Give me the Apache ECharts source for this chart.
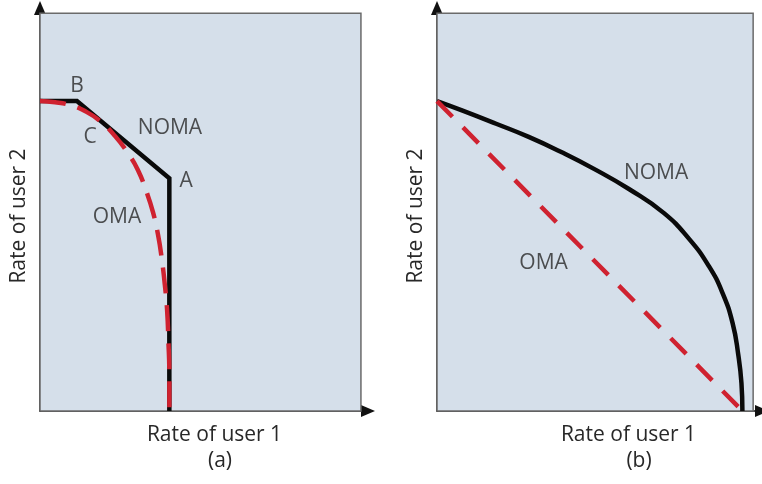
<!DOCTYPE html>
<html>
<head>
<meta charset="utf-8">
<title>NOMA vs OMA capacity regions</title>
<script src="https://cdn.jsdelivr.net/npm/echarts@6/dist/echarts.min.js"></script>
<style>
  html, body { margin: 0; padding: 0; background: #ffffff; }
  #chart { width: 762px; height: 484px; }
</style>
</head>
<body>
<div id="chart"></div>
<script>
// Rate pairs (user 1, user 2) in normalised units; the shaded frame spans 0..10 on each axis.

// (a) NOMA boundary: corner point B, segment to A, then straight down
const nomaA_x = [0, 1.15, 4.03, 4.03];
const nomaA_y = [7.79, 7.79, 5.85, 0];

// (a) OMA boundary: curve touching NOMA near point C
const omaA_x = [0, 0.47, 0.93, 1.40, 1.87, 2.34, 2.74, 3.05, 3.30, 3.52, 3.68, 3.80, 3.89, 3.96, 4.00, 4.03, 4.03];
const omaA_y = [7.79, 7.76, 7.69, 7.54, 7.29, 6.91, 6.48, 6.06, 5.55, 5.00, 4.42, 3.79, 3.17, 2.54, 1.78, 0.90, 0];

// (b) NOMA boundary: concave curve
const nomaB_x = [0, 0.81, 1.87, 2.90, 3.93, 4.98, 6.07, 7.17, 7.98, 8.60, 9.03, 9.35, 9.53, 9.63, 9.66];
const nomaB_y = [7.79, 7.55, 7.22, 6.89, 6.51, 6.08, 5.58, 4.98, 4.32, 3.64, 2.97, 2.21, 1.41, 0.70, 0];

// (b) OMA boundary: time-sharing straight line
const omaB_x = [0, 9.66];
const omaB_y = [7.79, 0];

// Text annotations: [text, user-1 rate, user-2 rate]
const notesA = [['B', 1.15, 8.17], ['C', 1.56, 6.88], ['NOMA', 4.05, 7.11], ['A', 4.55, 5.78], ['OMA', 2.40, 4.87]];
const notesB = [['NOMA', 6.93, 5.98], ['OMA', 3.37, 3.72]];

const xAxisTitle = 'Rate of user 1';
const yAxisTitle = 'Rate of user 2';
const panelTags = ['(a)', '(b)'];

const FONT = '"Open Sans", "Noto Sans", sans-serif';
const TEXT_COLOR = '#282828';
const TEXT_WEIGHT = 500;
const FRAME_MAX = 10;

function pairs(xs, ys) { return xs.map((x, i) => [x, ys[i]]); }

const chart = echarts.init(document.getElementById('chart'), null, { renderer: 'canvas' });

const grids = [
  { left: 40, top: 8, width: 328, height: 403 },
  { left: 437, top: 8, width: 330, height: 403 }
];
const xMax = [10.22, 10.28];
const yMax = 10.13;

const arrowLine = {
  show: true, symbol: ['none', 'triangle'], symbolSize: [12, 14],
  lineStyle: { color: '#111111', width: 1.5 }
};

function makeXAxis(gi, shift) {
  return {
    gridIndex: gi, type: 'value', min: 0, max: xMax[gi],
    axisLine: arrowLine,
    axisTick: { show: false }, axisLabel: { show: false }, splitLine: { show: false },
    name: xAxisTitle, nameLocation: 'middle', nameGap: 14,
    nameTextStyle: { fontFamily: FONT, fontSize: 21, fontWeight: TEXT_WEIGHT, color: TEXT_COLOR, padding: [0, 0, 0, shift] }
  };
}
function makeYAxis(gi) {
  return {
    gridIndex: gi, type: 'value', min: 0, max: yMax,
    axisLine: arrowLine,
    axisTick: { show: false }, axisLabel: { show: false }, splitLine: { show: false },
    name: yAxisTitle, nameLocation: 'middle', nameGap: 10,
    nameTextStyle: { fontFamily: FONT, fontSize: 21, fontWeight: TEXT_WEIGHT, color: TEXT_COLOR, padding: [0, 13, 0, 0] }
  };
}

function frameSeries(gi) {
  return {
    type: 'line', xAxisIndex: gi, yAxisIndex: gi, data: [], z: 1, silent: true,
    markArea: {
      silent: true,
      itemStyle: { color: '#d5dfea', borderColor: '#6a6a6a', borderWidth: 1.5 },
      data: [[{ coord: [0, 0] }, { coord: [FRAME_MAX, FRAME_MAX] }]]
    }
  };
}
function nomaSeries(gi, xs, ys, smooth) {
  return {
    type: 'line', xAxisIndex: gi, yAxisIndex: gi, data: pairs(xs, ys), smooth: smooth,
    symbol: 'none', z: 3, lineStyle: { color: '#0a0a0a', width: 4.5, join: 'miter' }
  };
}
function omaSeries(gi, xs, ys, smooth, dash) {
  return {
    type: 'line', xAxisIndex: gi, yAxisIndex: gi, data: pairs(xs, ys), smooth: smooth,
    symbol: 'none', z: 4, lineStyle: { color: '#cf2230', width: 4.5, type: dash, cap: 'butt' }
  };
}
function noteSeries(gi, notes) {
  return {
    type: 'scatter', xAxisIndex: gi, yAxisIndex: gi, symbolSize: 0, z: 5, silent: true,
    data: notes.map(n => ({ name: n[0], value: [n[1], n[2]] })),
    label: { show: true, position: 'inside', formatter: p => p.name, fontFamily: FONT, fontSize: 21, fontWeight: TEXT_WEIGHT, color: TEXT_COLOR }
  };
}

chart.setOption({
  animation: false,
  backgroundColor: '#ffffff',
  title: [
    { text: panelTags[0], left: 215, top: 446, textAlign: 'center', textStyle: { fontFamily: FONT, fontSize: 21, fontWeight: TEXT_WEIGHT, color: TEXT_COLOR } },
    { text: panelTags[1], left: 634, top: 446, textAlign: 'center', textStyle: { fontFamily: FONT, fontSize: 21, fontWeight: TEXT_WEIGHT, color: TEXT_COLOR } }
  ],
  grid: grids,
  xAxis: [makeXAxis(0, 21), makeXAxis(1, 58)],
  yAxis: [makeYAxis(0), makeYAxis(1)],
  series: [
    frameSeries(0),
    nomaSeries(0, nomaA_x, nomaA_y, false),
    omaSeries(0, omaA_x, omaA_y, true, [26, 12]),
    noteSeries(0, notesA),
    frameSeries(1),
    nomaSeries(1, nomaB_x, nomaB_y, 0.5),
    omaSeries(1, omaB_x, omaB_y, false, [22, 15]),
    noteSeries(1, notesB)
  ]
});
</script>
</body>
</html>
